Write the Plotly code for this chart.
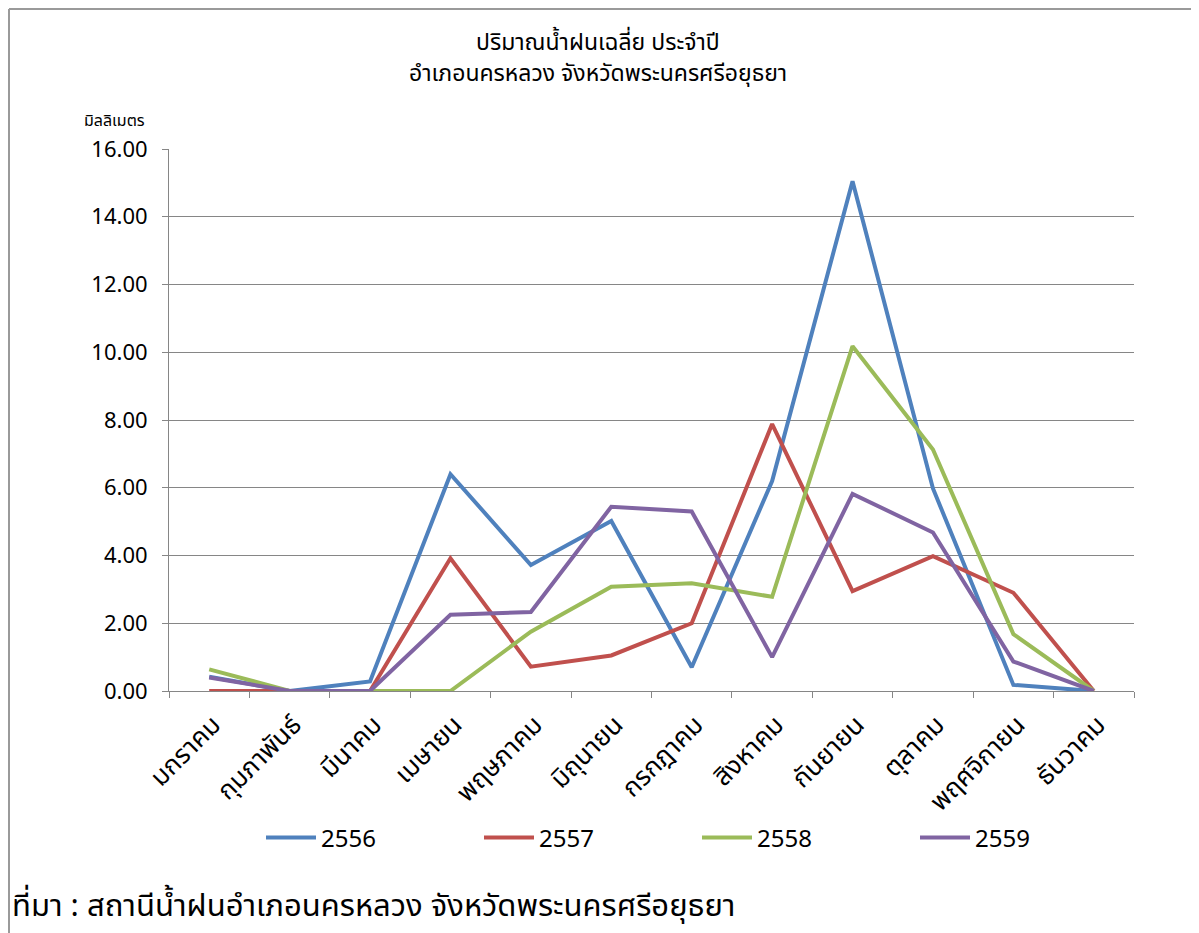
import plotly.graph_objects as go

months = ["มกราคม", "กุมภาพันธ์", "มีนาคม", "เมษายน", "พฤษภาคม", "มิถุนายน",
          "กรกฎาคม", "สิงหาคม", "กันยายน", "ตุลาคม", "พฤศจิกายน", "ธันวาคม"]
years = ["2556", "2557", "2558", "2559"]
rain_2556 = [0.42, 0.0, 0.28, 6.40, 3.72, 5.02, 0.70, 6.20, 15.05, 5.98, 0.18, 0.0]
rain_2557 = [0.0, 0.0, 0.0, 3.92, 0.72, 1.05, 2.00, 7.88, 2.95, 3.98, 2.90, 0.0]
rain_2558 = [0.64, 0.0, 0.0, 0.0, 1.75, 3.08, 3.18, 2.78, 10.18, 7.13, 1.68, 0.0]
rain_2559 = [0.40, 0.0, 0.0, 2.25, 2.33, 5.44, 5.30, 1.00, 5.82, 4.68, 0.87, 0.0]
series = [rain_2556, rain_2557, rain_2558, rain_2559]
colors = ["#4F81BD", "#C0504D", "#9BBB59", "#8064A2"]
title_lines = ["ปริมาณน้ำฝนเฉลี่ย ประจำปี", "อำเภอนครหลวง จังหวัดพระนครศรีอยุธยา"]

FONT = "Tahoma, 'Noto Sans Thai', 'Leelawadee UI', 'DejaVu Sans', sans-serif"

fig = go.Figure()
for name, vals, col in zip(years, series, colors):
    fig.add_trace(go.Scatter(x=months, y=vals, mode="lines", name=name,
                             line=dict(color=col, width=4)))

OFF = 8  # page body margin
W, H = 1191, 925
# plot area in page pixels
L, R, T, B = 169, 1134, 149, 691
pw, ph = R - L, B - T

def px(x):
    return (x - L) / pw

def py(y):
    return (B - y) / ph

fig.update_layout(
    width=W, height=H,
    margin=dict(l=L - OFF, r=W - (R - OFF), t=T - OFF, b=H - (B - OFF)),
    paper_bgcolor="white", plot_bgcolor="white",
    font=dict(family=FONT, color="#000000"),
    showlegend=True,
    legend=dict(orientation="h", x=px(261), y=py(838), xanchor="left", yanchor="middle",
                entrywidth=153, entrywidthmode="pixels",
                font=dict(size=24, family=FONT), bgcolor="rgba(0,0,0,0)",
                itemwidth=50),
    xaxis=dict(type="category", range=[-0.5, len(months) - 0.5],
               tickson="boundaries", ticks="outside", ticklen=6,
               tickcolor="#868686", showline=True, linecolor="#868686", linewidth=1,
               showgrid=False, tickangle=-45, ticklabelshift=4, ticklabelstandoff=7,
               tickfont=dict(size=26, family=FONT, color="#000000")),
    yaxis=dict(range=[0, 16], dtick=2, tickformat=".2f", ticks="outside", ticklen=6,
               tickcolor="#868686", showline=True, linecolor="#868686", linewidth=1,
               showgrid=True, gridcolor="#868686", gridwidth=1, zeroline=False,
               ticklabelstandoff=10,
               tickfont=dict(size=22, family=FONT, color="#000000")),
)

for txt, yy in zip(title_lines, [43, 74]):
    fig.add_annotation(text=txt, xref="paper", yref="paper", x=px(598), y=py(yy),
                       xanchor="center", yanchor="middle", showarrow=False,
                       font=dict(size=23, family=FONT, color="#000000"))

fig.add_annotation(text="มิลลิเมตร", xref="paper", yref="paper",
                   x=px(82), y=py(121), xanchor="left", yanchor="middle",
                   showarrow=False, font=dict(size=16, family=FONT, color="#000000"))
fig.add_annotation(text="ที่มา : สถานีน้ำฝนอำเภอนครหลวง จังหวัดพระนครศรีอยุธยา",
                   xref="paper", yref="paper", x=px(10), y=py(906),
                   xanchor="left", yanchor="middle", showarrow=False,
                   font=dict(size=31, family=FONT, color="#000000"))

# chart frame (top and left edges)
fig.add_shape(type="line", xref="paper", yref="paper", x0=px(9), x1=px(1199),
              y0=py(9), y1=py(9), line=dict(color="#9a9a9a", width=2))
fig.add_shape(type="line", xref="paper", yref="paper", x0=px(9), x1=px(9),
              y0=py(9), y1=py(933), line=dict(color="#9a9a9a", width=2))

fig.write_html("out.html")
